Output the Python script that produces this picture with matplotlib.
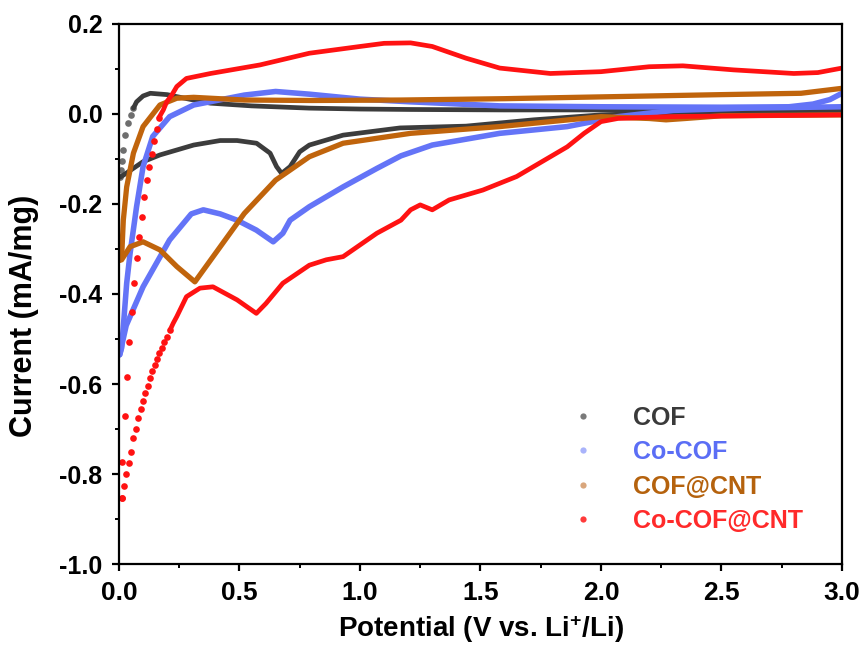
import matplotlib
matplotlib.use("Agg")
import matplotlib.pyplot as plt
from matplotlib.lines import Line2D

plt.rcParams["font.family"] = ["Liberation Sans", "DejaVu Sans"]
plt.rcParams["font.weight"] = "bold"
plt.rcParams["mathtext.fontset"] = "custom"
plt.rcParams["mathtext.bf"] = "Liberation Sans:bold"
plt.rcParams["mathtext.rm"] = "Liberation Sans:bold"
plt.rcParams["mathtext.default"] = "bf"

labels = ["COF", "Co-COF", "COF@CNT", "Co-COF@CNT"]

# COF
cof_dots_x = [0.006, 0.010, 0.014, 0.018, 0.025, 0.039, 0.048, 0.060]
cof_dots_y = [-0.140, -0.125, -0.105, -0.080, -0.047, -0.021, -0.002, 0.013]
cof_up_x = [0.060, 0.073, 0.10, 0.13, 0.20, 0.30, 0.38, 0.55, 0.79, 1.0, 1.21, 1.6, 2.0, 2.5, 3.0]
cof_up_y = [0.013, 0.027, 0.040, 0.046, 0.043, 0.032, 0.024, 0.018, 0.013, 0.011, 0.010, 0.009, 0.009, 0.008, 0.008]
cof_dn_x = [0.006, 0.018, 0.10, 0.17, 0.31, 0.42, 0.49, 0.571, 0.627, 0.654, 0.675, 0.71, 0.75, 0.79,
            0.93, 1.166, 1.44, 1.72, 2.0, 2.27, 2.6, 3.0]
cof_dn_y = [-0.140, -0.136, -0.106, -0.091, -0.069, -0.059, -0.059, -0.065, -0.087, -0.117, -0.132,
            -0.117, -0.084, -0.069, -0.047, -0.031, -0.027, -0.013, -0.002, 0.003, 0.006, 0.007]

# Co-COF
cocof_up_x = [0.003, 0.011, 0.018, 0.032, 0.046, 0.073, 0.10, 0.14, 0.21, 0.31, 0.52, 0.65, 0.79,
              1.0, 1.21, 1.58, 2.0, 2.5, 2.78, 2.88, 2.95, 3.0]
cocof_up_y = [-0.535, -0.52, -0.473, -0.376, -0.31, -0.206, -0.117, -0.05, -0.006, 0.02, 0.042, 0.05,
              0.044, 0.033, 0.027, 0.018, 0.016, 0.015, 0.016, 0.022, 0.032, 0.046]
cocof_dn_x = [0.003, 0.03, 0.10, 0.21, 0.30, 0.35, 0.42, 0.49, 0.57, 0.64, 0.68, 0.71, 0.79, 0.93,
              1.07, 1.17, 1.30, 1.58, 1.86, 2.07, 2.3, 2.6, 3.0]
cocof_dn_y = [-0.535, -0.47, -0.384, -0.28, -0.222, -0.213, -0.222, -0.236, -0.258, -0.284, -0.265,
              -0.236, -0.206, -0.162, -0.121, -0.093, -0.069, -0.043, -0.028, -0.006, 0.008, 0.013, 0.016]

# COF@CNT
cofcnt_up_x = [0.003, 0.011, 0.018, 0.032, 0.06, 0.10, 0.17, 0.24, 0.31, 0.52, 0.8, 1.17, 1.6, 2.0,
               2.5, 2.83, 3.0]
cofcnt_up_y = [-0.325, -0.32, -0.236, -0.162, -0.087, -0.028, 0.02, 0.035, 0.037, 0.031, 0.03, 0.031,
               0.034, 0.038, 0.043, 0.046, 0.057]
cofcnt_dn_x = [0.003, 0.011, 0.046, 0.10, 0.17, 0.24, 0.315, 0.40, 0.52, 0.65, 0.79, 0.93, 1.21,
               1.58, 2.0, 2.2, 2.27, 2.35, 2.5, 3.0]
cofcnt_dn_y = [-0.325, -0.324, -0.295, -0.284, -0.302, -0.339, -0.373, -0.31, -0.221, -0.147, -0.095,
               -0.065, -0.043, -0.028, -0.006, -0.010, -0.013, -0.010, -0.004, -0.002]

# Co-COF@CNT
cocofcnt_dots_up_x = [0.011, 0.013, 0.023, 0.034, 0.043, 0.052, 0.062, 0.073, 0.084, 0.094, 0.105,
                      0.115, 0.126, 0.136, 0.146, 0.156, 0.166]
cocofcnt_dots_up_y = [-0.854, -0.773, -0.671, -0.584, -0.506, -0.439, -0.376, -0.321, -0.273, -0.228,
                      -0.184, -0.147, -0.117, -0.088, -0.060, -0.033, -0.008]
cocofcnt_dots_dn_x = [0.011, 0.021, 0.029, 0.040, 0.050, 0.057, 0.069, 0.079, 0.090, 0.098, 0.109,
                      0.122, 0.129, 0.138, 0.149, 0.159, 0.167, 0.178, 0.188, 0.198, 0.212]
cocofcnt_dots_dn_y = [-0.854, -0.827, -0.801, -0.775, -0.751, -0.721, -0.700, -0.676, -0.656, -0.637,
                      -0.621, -0.604, -0.587, -0.572, -0.558, -0.544, -0.532, -0.519, -0.507, -0.495,
                      -0.480]
cocofcnt_up_x = [0.166, 0.184, 0.198, 0.219, 0.24, 0.28, 0.38, 0.585, 0.79, 1.0, 1.1, 1.21, 1.30,
                 1.44, 1.58, 1.79, 2.0, 2.2, 2.34, 2.55, 2.8, 2.9, 3.0]
cocofcnt_up_y = [-0.008, 0.009, 0.027, 0.042, 0.061, 0.079, 0.09, 0.109, 0.135, 0.15, 0.157, 0.158,
                 0.15, 0.124, 0.102, 0.09, 0.094, 0.105, 0.107, 0.098, 0.09, 0.092, 0.102]
cocofcnt_dn_x = [0.212, 0.225, 0.24, 0.28, 0.336, 0.39, 0.49, 0.57, 0.61, 0.68, 0.79, 0.86, 0.93,
                 1.07, 1.17, 1.21, 1.25, 1.30, 1.37, 1.51, 1.65, 1.79, 1.86, 1.93, 2.0, 2.07, 2.27,
                 2.6, 3.0]
cocofcnt_dn_y = [-0.480, -0.465, -0.45, -0.406, -0.387, -0.384, -0.413, -0.443, -0.421, -0.376, -0.336,
                 -0.324, -0.317, -0.265, -0.236, -0.213, -0.202, -0.213, -0.191, -0.169, -0.139,
                 -0.095, -0.073, -0.043, -0.017, -0.010, -0.006, -0.004, -0.002]

line_colors = ["#3c3c3c", "#6474f7", "#c0640c", "#ff1212"]
marker_colors = ["#7a7a7a", "#a9b3fb", "#d9a67c", "#ff3a3a"]
text_colors = ["#3a3a3a", "#5b6ef5", "#b5620d", "#ff2a2a"]

fig = plt.figure(figsize=(8.64, 6.48), dpi=100)
ax = fig.add_axes([0.1377, 0.1296, 0.8368, 0.8334])

kw = dict(solid_capstyle="round", solid_joinstyle="round")
# COF
ax.plot(cof_dots_x, cof_dots_y, ls="none", marker="o", ms=4.8, color="#6e6e6e", mec="none")
ax.plot(cof_up_x, cof_up_y, color=line_colors[0], lw=3.4, **kw)
ax.plot(cof_dn_x, cof_dn_y, color=line_colors[0], lw=3.4, **kw)
# Co-COF
ax.plot(cocof_up_x, cocof_up_y, color=line_colors[1], lw=4.0, **kw)
ax.plot(cocof_dn_x, cocof_dn_y, color=line_colors[1], lw=4.0, **kw)
# COF@CNT
ax.plot(cofcnt_up_x, cofcnt_up_y, color=line_colors[2], lw=3.8, **kw)
ax.plot(cofcnt_dn_x, cofcnt_dn_y, color=line_colors[2], lw=3.8, **kw)
# Co-COF@CNT
ax.plot(cocofcnt_dots_up_x, cocofcnt_dots_up_y, ls="none", marker="o", ms=4.8,
        color=line_colors[3], mec="none")
ax.plot(cocofcnt_dots_dn_x, cocofcnt_dots_dn_y, ls="none", marker="o", ms=4.8,
        color=line_colors[3], mec="none")
ax.plot(cocofcnt_up_x, cocofcnt_up_y, color=line_colors[3], lw=3.4, **kw)
ax.plot(cocofcnt_dn_x, cocofcnt_dn_y, color=line_colors[3], lw=3.4, **kw)

ax.set_xlim(0, 3.0)
ax.set_ylim(-1.0, 0.2)
ax.set_xticks([0.0, 0.5, 1.0, 1.5, 2.0, 2.5, 3.0])
ax.set_xticks([0.25, 0.75, 1.25, 1.75, 2.25, 2.75], minor=True)
ax.set_yticks([-1.0, -0.8, -0.6, -0.4, -0.2, 0.0, 0.2])
ax.set_yticks([-0.9, -0.7, -0.5, -0.3, -0.1, 0.1], minor=True)
ax.set_xticklabels(["0.0", "0.5", "1.0", "1.5", "2.0", "2.5", "3.0"])
ax.set_yticklabels(["-1.0", "-0.8", "-0.6", "-0.4", "-0.2", "0.0", "0.2"])
ax.tick_params(which="major", direction="out", length=5, width=1.6)
ax.tick_params(which="minor", direction="out", length=3, width=1.4)
ax.tick_params(axis="x", which="major", labelsize=19, pad=7)
ax.tick_params(axis="y", which="major", labelsize=18, pad=7)
for spine in ax.spines.values():
    spine.set_linewidth(1.6)

ax.set_xlabel(r"Potential (V vs. Li$^{+}$/Li)", fontsize=20, fontweight="bold")
ax.set_ylabel("Current (mA/mg)", fontsize=22, fontweight="bold")
ax.xaxis.set_label_coords(0.5, -0.092)
ax.yaxis.set_label_coords(-0.11, 0.46)

handles = [Line2D([], [], ls="none", marker="o", ms=4.5, color=c, mec="none") for c in marker_colors]
ax.legend(handles, labels, loc="upper left", bbox_to_anchor=(0.59, 0.335), frameon=False,
          labelcolor=text_colors, handlelength=1.2, handletextpad=1.4,
          labelspacing=0.42, prop={"weight": "bold", "size": 18})

fig.savefig("out.png", dpi=100)
